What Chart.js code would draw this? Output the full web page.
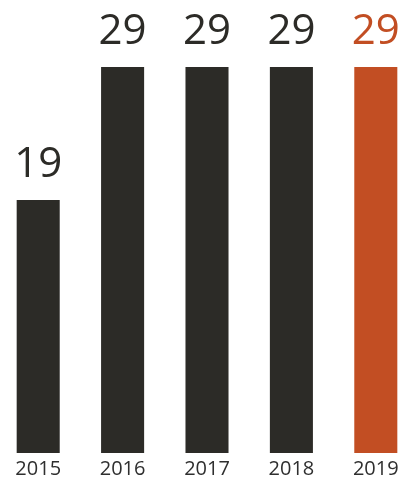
<!DOCTYPE html>
<html>
<head>
<meta charset="utf-8">
<script src="https://cdn.jsdelivr.net/npm/chart.js@4"></script>
<style>
  html, body { margin: 0; padding: 0; background: #fff; overflow: hidden; }
  .wrap { position: absolute; left: -4px; top: 0; width: 422px; height: 485px; }
</style>
</head>
<body>
<div class="wrap"><canvas id="myChart"></canvas></div>
<script>
// data
const years = ['2015', '2016', '2017', '2018', '2019'];
const counts = [19, 29, 29, 29, 29];
const barColors = ['#2c2b27', '#2c2b27', '#2c2b27', '#2c2b27', '#c24e23'];

// numbers above the bars
const valueLabels = {
    id: 'valueLabels',
    afterDatasetsDraw(chart) {
        const ctx = chart.ctx;
        const meta = chart.getDatasetMeta(0);
        ctx.save();
        ctx.font = '42px "Open Sans"';
        ctx.textAlign = 'center';
        ctx.textBaseline = 'alphabetic';
        meta.data.forEach((bar, i) => {
            ctx.fillStyle = barColors[i];
            ctx.fillText(String(counts[i]), bar.x, bar.y - 23);
        });
        ctx.restore();
    }
};

const ctx = document.getElementById('myChart').getContext('2d');
const myChart = new Chart(ctx, {
    type: 'bar',
    data: {
        labels: years,
        datasets: [{
            data: counts,
            backgroundColor: barColors,
            borderWidth: 0,
            categoryPercentage: 1,
            barPercentage: 0.51
        }]
    },
    options: {
        responsive: true,
        maintainAspectRatio: false,
        animation: false,
        layout: { padding: { top: 67, bottom: 0, left: 0, right: 0 } },
        plugins: { legend: { display: false }, tooltip: { enabled: false } },
        scales: {
            x: {
                grid: { display: false, drawTicks: false, tickLength: 0 },
                border: { display: false },
                ticks: {
                    color: '#2f2f2f',
                    padding: 4,
                    maxRotation: 0,
                    font: { family: 'Open Sans', size: 20 }
                }
            },
            y: {
                display: false,
                min: 0,
                max: 29
            }
        }
    },
    plugins: [valueLabels]
});
</script>
</body>
</html>
